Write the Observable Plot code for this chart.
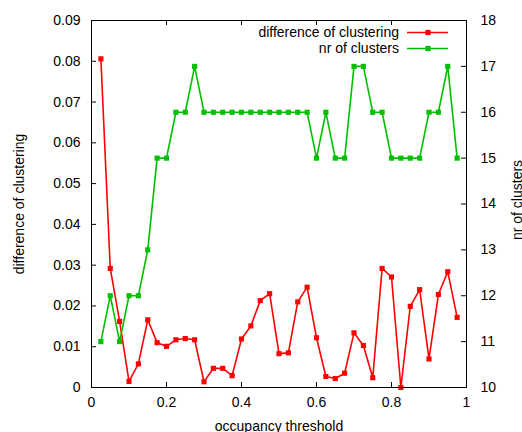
<!DOCTYPE html>
<html><head><meta charset="utf-8">
<script src="https://cdn.jsdelivr.net/npm/d3@7"></script>
<script src="https://cdn.jsdelivr.net/npm/@observablehq/plot@0.6"></script>
<style>body{margin:0;background:#fff} #chart svg{display:block}</style>
</head><body><div id="chart"></div>
<script>
const thresholds = [0.025,0.05,0.075,0.1,0.125,0.15,0.175,0.2,0.225,0.25,0.275,0.3,0.325,0.35,0.375,0.4,0.425,0.45,0.475,0.5,0.525,0.55,0.575,0.6,0.625,0.65,0.675,0.7,0.725,0.75,0.775,0.8,0.825,0.85,0.875,0.9,0.925,0.95,0.975];
const diffClustering = [0.0806,0.0292,0.0162,0.0015,0.0058,0.0166,0.0110,0.0101,0.0117,0.0120,0.0117,0.0014,0.0047,0.0047,0.0029,0.0119,0.0151,0.0213,0.0230,0.0083,0.0085,0.0210,0.0246,0.0122,0.0027,0.0022,0.0035,0.0134,0.0103,0.0024,0.0292,0.0271,0.0000,0.0199,0.0240,0.0070,0.0228,0.0284,0.0172];
const nrClusters = [11,12,11,12,12,13,15,15,16,16,17,16,16,16,16,16,16,16,16,16,16,16,16,15,16,15,15,17,17,16,16,15,15,15,15,16,16,17,15];
const xTicks = [0,0.2,0.4,0.6,0.8,1];
const leftTicks = [0,0.01,0.02,0.03,0.04,0.05,0.06,0.07,0.08,0.09];
const rightTicks = [10,11,12,13,14,15,16,17,18];
const seriesNames = ["difference of clustering","nr of clusters"];
const colors = ["#ff0000","#00c000"];
const xLabel = "occupancy threshold";
const yLabel = "difference of clustering";
const y2Label = "nr of clusters";

const leftDomain = [0, 0.09];
const rightDomain = [10, 18];
const toLeft = v => (v - rightDomain[0]) / (rightDomain[1] - rightDomain[0]) * (leftDomain[1] - leftDomain[0]) + leftDomain[0];
const fromLeft = v => (v - leftDomain[0]) / (leftDomain[1] - leftDomain[0]) * (rightDomain[1] - rightDomain[0]) + rightDomain[0];

const rows = thresholds.map((t, i) => ({t, diff: diffClustering[i], n: nrClusters[i], n2: toLeft(nrClusters[i])}));

const W = 522, H = 432, mL = 91, mR = 56, mT = 20, mB = 45;
const pw = W - mL - mR, ph = H - mT - mB;
const tick = 5;
const font = "'Liberation Sans', Arial, Helvetica, sans-serif";

const legend = (index, scales, values, dims) => {
  const g = d3.create("svg:g").attr("font-family", font).attr("font-size", 14);
  const xr = dims.width - dims.marginRight;
  const yt = dims.marginTop;
  seriesNames.forEach((name, i) => {
    const y = yt + 12.5 + i * 16;
    g.append("text").attr("x", xr - 67).attr("y", y).attr("dy", "0.32em")
      .attr("text-anchor", "end").attr("fill", "black").text(name);
    g.append("line").attr("x1", xr - 59).attr("x2", xr - 18).attr("y1", y).attr("y2", y)
      .attr("stroke", colors[i]).attr("stroke-width", 1.6);
    g.append("rect").attr("x", xr - 38 - 2.6).attr("y", y - 2.6).attr("width", 5.2).attr("height", 5.2)
      .attr("fill", colors[i]);
  });
  return g.node();
};

const chart = Plot.plot({
  width: W, height: H,
  marginLeft: mL, marginRight: mR, marginTop: mT, marginBottom: mB,
  x: {domain: [0, 1]},
  y: {domain: leftDomain},
  style: {fontFamily: font, fontSize: "14px", color: "black", background: "white"},
  marks: [
    Plot.gridX(xTicks, {stroke: "black", strokeOpacity: 1, insetTop: ph - tick}),
    Plot.gridX(xTicks, {stroke: "black", strokeOpacity: 1, insetBottom: ph - tick}),
    Plot.gridY(leftTicks, {stroke: "black", strokeOpacity: 1, insetRight: pw - tick}),
    Plot.gridY(rightTicks.map(toLeft), {stroke: "black", strokeOpacity: 1, insetLeft: pw - tick}),
    Plot.axisX(xTicks, {tickSize: 0, tickPadding: 10, label: null, fontSize: 14, tickFormat: d => String(d)}),
    Plot.axisY(leftTicks, {anchor: "left", tickSize: 0, tickPadding: 11, label: null, fontSize: 14, tickFormat: d => String(d)}),
    Plot.axisY(rightTicks.map(toLeft), {anchor: "right", tickSize: 0, tickPadding: 14, label: null, fontSize: 14,
      tickFormat: d => String(Math.round(fromLeft(d)))}),
    Plot.line(rows, {x: "t", y: "diff", stroke: colors[0], strokeWidth: 1.6}),
    Plot.dot(rows, {x: "t", y: "diff", symbol: "square", r: 2.9, fill: colors[0]}),
    Plot.line(rows, {x: "t", y: "n2", stroke: colors[1], strokeWidth: 1.6}),
    Plot.dot(rows, {x: "t", y: "n2", symbol: "square", r: 2.9, fill: colors[1]}),
    Plot.frame({stroke: "black", strokeWidth: 1}),
    Plot.text([xLabel], {frameAnchor: "bottom", dy: 39, textAnchor: "middle", lineAnchor: "middle", fontSize: 14, fill: "black"}),
    Plot.text([yLabel], {frameAnchor: "left", dx: -71.5, textAnchor: "middle", lineAnchor: "middle", rotate: -90, fontSize: 14, fill: "black"}),
    Plot.text([y2Label], {frameAnchor: "right", dx: 51, dy: -4, textAnchor: "middle", lineAnchor: "middle", rotate: -90, fontSize: 14, fill: "black"}),
    legend
  ]
});
document.getElementById("chart").appendChild(chart);
</script>
</body></html>
